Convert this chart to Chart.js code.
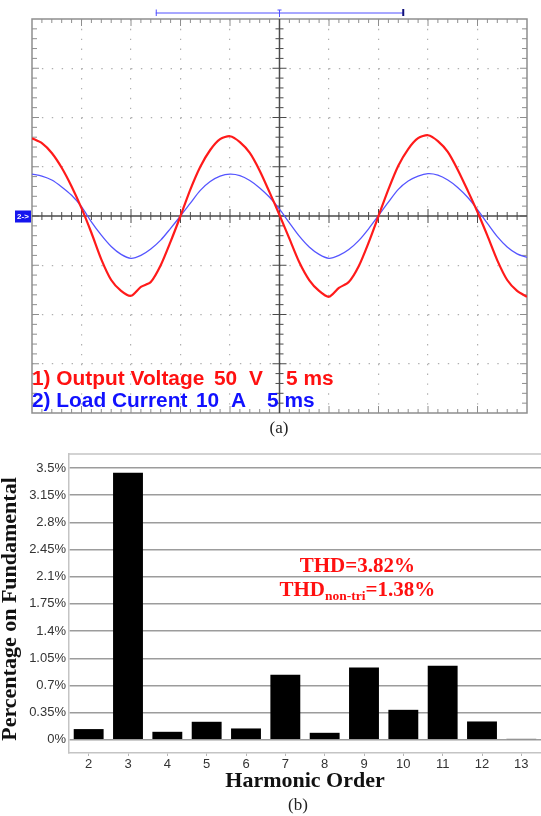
<!DOCTYPE html>
<html>
<head>
<meta charset="utf-8">
<script src="https://cdn.jsdelivr.net/npm/chart.js@4.4.1/dist/chart.umd.min.js"></script>
<style>
  body { margin: 0; background: #fff; }
  #wrap { position: relative; width: 541px; height: 816px; overflow: hidden; }
  canvas { position: absolute; left: 0; }
  #scope { top: 0; }
  #harm { top: 420px; }
  .cap { position: absolute; font-family: "Liberation Serif", "Times New Roman", serif; font-size: 17px; color: #222; transform: translate(-50%, -50%); }
</style>
</head>
<body>
<div id="wrap">
  <canvas id="scope" width="541" height="420"></canvas>
  <canvas id="harm" width="541" height="396"></canvas>
  <div class="cap" style="left:279px; top:428px">(a)</div>
  <div class="cap" style="left:298px; top:805px">(b)</div>
</div>
<script>
// (a) scope traces, 5 ms/div
const timeMs = [0, 1, 2, 3, 4, 5, 6, 7, 8, 9, 10, 11, 12, 13, 14, 15, 16, 17, 18, 19, 20,
                21, 22, 23, 24, 25, 26, 27, 28, 29, 30, 31, 32, 33, 34, 35, 36, 37, 38, 39, 40,
                41, 42, 43, 44, 45, 46, 47, 48, 49, 50];
// channel 1, volts (50 V/div)
const outputVoltage = [79, 74, 64, 49, 30, 8, -17, -44, -65, -76, -81, -72, -67, -50, -26, 0, 27, 50, 67, 78, 81,
                       75, 64, 46, 24, 1, -23, -47, -65, -76, -82, -73, -67, -51, -27, 0, 27, 51, 68, 79, 82,
                       76, 65, 47, 26, 4, -20, -45, -65, -76, -82];
// channel 2, amps (10 A/div)
const loadCurrent = [8.5, 8.1, 7.3, 5.9, 4.2, 1.9, -1.2, -3.9, -6.2, -7.8, -8.6, -8.0, -6.7, -4.9, -2.5, 0, 2.6, 5.2, 7.0, 8.1, 8.5,
                     8.2, 7.2, 5.7, 3.8, 1.4, -1.4, -4.1, -6.3, -7.8, -8.6, -8.0, -6.8, -5.0, -2.6, 0.1, 2.8, 5.4, 7.1, 8.1, 8.6,
                     8.3, 7.3, 5.8, 3.8, 1.3, -1.5, -4.2, -6.3, -7.7, -8.4];

// (b) harmonic spectrum
const harmonicOrder = ['2', '3', '4', '5', '6', '7', '8', '9', '10', '11', '12', '13'];
const harmonicPct = [0.138, 3.44, 0.103, 0.232, 0.146, 0.837, 0.09, 0.931, 0.386, 0.953, 0.236, 0.012];
const pctTicks = [0, 0.35, 0.7, 1.05, 1.4, 1.75, 2.1, 2.45, 2.8, 3.15, 3.5];

function line(ctx, x1, y1, x2, y2) {
    ctx.beginPath();
    ctx.moveTo(x1, y1);
    ctx.lineTo(x2, y2);
    ctx.stroke();
}

const scopeDecor = {
    id: 'scopeDecor',
    beforeDatasetsDraw(chart) {
        let ctx = chart.ctx, a = chart.chartArea;
        let x = chart.scales.x, y = chart.scales.y;
        let x0 = x.getPixelForValue(25), y0 = y.getPixelForValue(0);
        ctx.save();

        // frame + edge ticks
        ctx.strokeStyle = '#8e8e8e';
        ctx.lineWidth = 1.5;
        ctx.strokeRect(a.left, a.top, a.right - a.left, a.bottom - a.top);
        ctx.lineWidth = 1;
        for (let t = 1; t < 50; t++) {
            let px = x.getPixelForValue(t);
            let len = t % 5 === 0 ? 7 : 4;
            line(ctx, px, a.top, px, a.top + len);
            line(ctx, px, a.bottom, px, a.bottom - len);
        }
        for (let v = -190; v < 200; v += 10) {
            let py = y.getPixelForValue(v);
            let len = v % 50 === 0 ? 7 : 5;
            line(ctx, a.left, py, a.left + len, py);
            line(ctx, a.right, py, a.right - len, py);
        }

        // centre cross
        ctx.strokeStyle = '#4a4a4a';
        ctx.lineWidth = 1.5;
        line(ctx, a.left, y0, a.right, y0);
        line(ctx, x0, a.top, x0, a.bottom);
        ctx.lineWidth = 1;
        for (let t = 1; t < 50; t++) {
            let px = x.getPixelForValue(t);
            let len = t % 5 === 0 ? 7 : 4;
            line(ctx, px, y0 - len, px, y0 + len);
        }
        for (let v = -190; v < 200; v += 10) {
            let py = y.getPixelForValue(v);
            let len = v % 50 === 0 ? 7 : 4;
            line(ctx, x0 - len, py, x0 + len, py);
        }

        // zoom bar on top
        let bx1 = x.getPixelForValue(12.5), bx2 = x.getPixelForValue(37.5), by = a.top - 6;
        ctx.strokeStyle = '#5050ff';
        line(ctx, bx1, by, bx2, by);
        line(ctx, bx1 + 0.5, by - 3.5, bx1 + 0.5, by + 3);
        line(ctx, x0, by - 3, x0, by + 4);
        line(ctx, x0 - 2, by - 3, x0 + 2, by - 3);
        ctx.strokeStyle = '#10107a';
        ctx.lineWidth = 2;
        line(ctx, bx2, by - 4, bx2, by + 3);

        // channel 2 ground marker
        ctx.fillStyle = '#1515ee';
        ctx.fillRect(a.left - 17, y0 - 5.5, 16, 12);
        ctx.fillStyle = '#fff';
        ctx.font = 'bold 8px "Liberation Sans", Arial';
        ctx.textAlign = 'center';
        ctx.textBaseline = 'middle';
        ctx.fillText('2->', a.left - 9, y0 + 0.5);
        ctx.restore();
    },
    afterDraw(chart) {
        let ctx = chart.ctx, a = chart.chartArea;
        let rows = [
            { color: '#ff1111', dy: -28, parts: [['1) Output Voltage', 0], ['50', 182], ['V', 217], ['5 ms', 254]] },
            { color: '#1111ff', dy: -6.5, parts: [['2) Load Current', 0], ['10', 164], ['A', 199], ['5 ms', 235]] }
        ];
        ctx.save();
        ctx.font = 'bold 19.5px "Liberation Sans", Arial';
        ctx.textAlign = 'left';
        ctx.textBaseline = 'alphabetic';
        rows.forEach(r => {
            ctx.fillStyle = r.color;
            r.parts.forEach(p => {
                ctx.save();
                ctx.translate(a.left + p[1], a.bottom + r.dy);
                ctx.scale(1.07, 1);
                ctx.fillText(p[0], 0, 0);
                ctx.restore();
            });
        });
        ctx.restore();
    }
};

function hideEdges(ends) {
    return ctx => (ctx.tick && ends.includes(ctx.tick.value)) ? 'rgba(0,0,0,0)' : '#b0b0b0';
}

let scopeChart = new Chart(document.getElementById('scope'), {
    type: 'line',
    data: {
        datasets: [
            {
                label: 'Output Voltage',
                data: timeMs.map((t, i) => ({ x: t, y: outputVoltage[i] })),
                borderColor: '#ff1a1a',
                borderWidth: 2.2,
                pointRadius: 0,
                tension: 0.25,
                yAxisID: 'y'
            },
            {
                label: 'Load Current',
                data: timeMs.map((t, i) => ({ x: t, y: loadCurrent[i] })),
                borderColor: '#5555ff',
                borderWidth: 1.3,
                pointRadius: 0,
                tension: 0.3,
                yAxisID: 'yI'
            }
        ]
    },
    options: {
        responsive: false,
        animation: false,
        layout: { padding: { left: 32, right: 14, top: 19, bottom: 7 } },
        plugins: { legend: { display: false }, tooltip: { enabled: false } },
        scales: {
            x: {
                type: 'linear', min: 0, max: 50,
                ticks: { display: false, stepSize: 5 },
                grid: { drawTicks: false, color: hideEdges([0, 25, 50]), lineWidth: 1.2 },
                border: { display: false, dash: [1.4, 8.45] },
                afterFit: s => { s.height = 0; }
            },
            y: {
                min: -200, max: 200,
                ticks: { display: false, stepSize: 50 },
                grid: { drawTicks: false, color: hideEdges([-200, 0, 200]), lineWidth: 1.2 },
                border: { display: false, dash: [1.4, 8.5] },
                afterFit: s => { s.width = 0; }
            },
            yI: { min: -40, max: 40, display: false }
        }
    },
    plugins: [scopeDecor]
});

const harmDecor = {
    id: 'harmDecor',
    afterDraw(chart) {
        let ctx = chart.ctx, a = chart.chartArea;
        let x = chart.scales.x, y = chart.scales.y;
        ctx.save();
        ctx.strokeStyle = '#c4c4c4';
        ctx.lineWidth = 1.5;
        line(ctx, a.left, a.top, a.right, a.top);

        // THD note
        let cx = x.getPixelForValue(6.83);
        let big = 'bold 21px "Liberation Serif", "Times New Roman", serif';
        let small = 'bold 13.5px "Liberation Serif", "Times New Roman", serif';
        ctx.fillStyle = '#ff1010';
        ctx.font = big;
        ctx.textAlign = 'center';
        ctx.textBaseline = 'alphabetic';
        ctx.fillText('THD=3.82%', cx, y.getPixelForValue(2.16));

        let y2 = y.getPixelForValue(1.85);
        let w1 = ctx.measureText('THD').width, w3 = ctx.measureText('=1.38%').width;
        ctx.font = small;
        let w2 = ctx.measureText('non-tri').width;
        let sx = cx - (w1 + w2 + w3) / 2;
        ctx.textAlign = 'left';
        ctx.font = big;
        ctx.fillText('THD', sx, y2);
        ctx.font = small;
        ctx.fillText('non-tri', sx + w1, y2 + 4);
        ctx.font = big;
        ctx.fillText('=1.38%', sx + w1 + w2, y2);
        ctx.restore();
    }
};

let harmChart = new Chart(document.getElementById('harm'), {
    type: 'bar',
    data: {
        labels: harmonicOrder,
        datasets: [{
            label: 'Harmonic',
            data: harmonicPct,
            backgroundColor: '#000',
            borderColor: '#777',
            borderWidth: { top: 0, left: 0, right: 0, bottom: 0 },
            barPercentage: 0.76,
            categoryPercentage: 1
        }]
    },
    options: {
        responsive: false,
        animation: false,
        layout: { padding: { left: 0, right: 0, top: 34, bottom: 24 } },
        plugins: { legend: { display: false }, tooltip: { enabled: false } },
        scales: {
            x: {
                grid: { display: true, drawOnChartArea: false, offset: false, tickLength: 3, color: '#b5b5b5' },
                border: { color: '#c4c4c4', width: 1.5 },
                ticks: { color: '#333', font: { family: '"Liberation Sans", Arial', size: 13 }, padding: 1 },
                title: {
                    display: true, text: 'Harmonic Order', color: '#111', padding: 0,
                    font: { family: '"Liberation Serif", "Times New Roman", serif', size: 22, weight: 'bold', lineHeight: 1 }
                },
                afterFit: s => { s.height = 39; }
            },
            y: {
                min: -0.17, max: 3.68,
                afterBuildTicks: s => { s.ticks = pctTicks.map(v => ({ value: v })); },
                ticks: { callback: v => v + '%', color: '#333', font: { family: '"Liberation Sans", Arial', size: 13 }, padding: 3 },
                grid: { color: '#9c9c9c', lineWidth: 1.5, drawTicks: false },
                border: { color: '#c4c4c4', width: 1.5 },
                title: {
                    display: true, text: 'Percentage on Fundamental  ', color: '#111', padding: 0,
                    font: { family: '"Liberation Serif", "Times New Roman", serif', size: 22, weight: 'bold', lineHeight: 0.9 }
                },
                afterFit: s => { s.width = 69; }
            }
        }
    },
    plugins: [harmDecor]
});
</script>
</body>
</html>
